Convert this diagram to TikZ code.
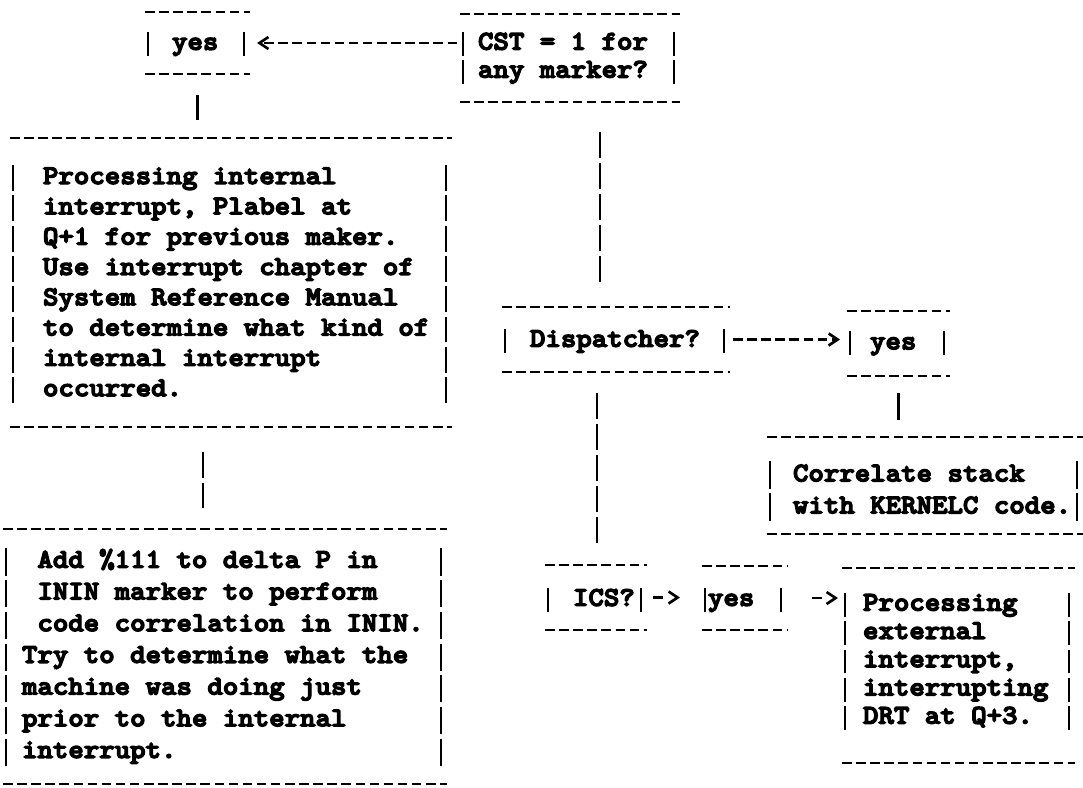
\documentclass[tikz,border=0pt]{standalone}
\usepackage{fontspec}
\newfontfamily\tw{lmmonolt10-bold.otf}[FakeStretch=1.09, FakeBold=5]
\usetikzlibrary{arrows.meta}

\tikzset{
  ink/.style={line width=2.7pt, black},
  hrule/.style={ink, dash pattern=on 9.5pt off 4.6pt},
  vdash/.style={ink, dash pattern=on 26pt off 5pt},
  boxshape/.style={rectangle, inner sep=0pt, outer sep=0pt},
  txt/.style={font=\tw\fontsize{27}{#1}\selectfont, align=left,
    anchor=west, inner sep=0pt, outer sep=0pt},
  txt/.default=29,
  barb/.style={-{Straight Barb[length=9pt,width=12pt]}},
  stub/.style={ink, dash pattern=on 10pt off 40pt, barb}
}

% a typed box: name, left, top, right, bottom, first row, last row, row pitch
\newcommand\tbox[8]{%
  \node[boxshape, minimum width={#4-#2}, minimum height={#5-#3}] (#1)
    at ({(#2+#4)/2},{(#3+#5)/2}) {};
  \draw[hrule] (#1.north west) -- (#1.north east);
  \draw[hrule] (#1.south west) -- (#1.south east);
  \pgfmathsetmacro\barlen{#8-4.5}
  \pgfmathsetmacro\bartop{#6-\barlen/2}
  \pgfmathsetmacro\barbot{#7+\barlen/2}
  \draw[ink, dash pattern=on \barlen pt off 4.5pt] ({#2+3},\bartop) -- ({#2+3},\barbot);
  \draw[ink, dash pattern=on \barlen pt off 4.5pt] ({#4-6},\bartop) -- ({#4-6},\barbot);
}

\begin{document}
\begin{tikzpicture}[x=1pt, y=-1pt]
\fill[white] (0,0) rectangle (1083,787);
\useasboundingbox (0,0) rectangle (1083,787);

% boxes
\tbox{yes1}{145}{12}{250}{74}{44}{44}{29}
\tbox{cst}{460}{14}{680}{102}{44}{72}{28}
\tbox{big}{10}{138}{452}{427}{178}{390}{30.3}
\tbox{add}{3}{529}{447}{784}{562}{752}{31.7}
\tbox{disp}{502}{307}{730}{372}{341}{341}{29}
\tbox{yes2}{847}{311}{950}{376}{343}{343}{29}
\tbox{corr}{767}{437}{1083}{534}{475}{507}{32}
\tbox{ics}{545}{565}{647}{630}{600}{600}{29}
\tbox{yes3}{702}{566}{787}{630}{600}{600}{29}
\tbox{proc}{842}{568}{1075}{763}{605}{718}{28.25}

% box texts
\node[txt] (yes1-t) at ([xshift=27pt,yshift=-1pt]yes1.west) {\strut yes};
\node[txt=28] (cst-t) at ([xshift=18pt]cst.west) {\strut CST = 1 for\\\strut any marker?};
\node[txt=30.3] (big-t) at ([xshift=33pt,yshift=-1.5pt]big.west)
  {\strut Processing internal\\
   \strut interrupt, Plabel at\\
   \strut Q+1 for previous maker.\\
   \strut Use interrupt chapter of\\
   \strut System Reference Manual\\
   \strut to determine what kind of\\
   \strut internal interrupt\\
   \strut occurred.};
\node[txt=31.7] (add-t) at ([xshift=19pt]add.west)
  {\strut\ Add \%111 to delta P in\\
   \strut\ ININ marker to perform\\
   \strut\ code correlation in ININ.\\
   \strut Try to determine what the\\
   \strut machine was doing just\\
   \strut prior to the internal\\
   \strut interrupt.};
\node[txt] (disp-t) at ([xshift=28pt,yshift=-1.5pt]disp.west) {\strut Dispatcher?};
\node[txt] (yes2-t) at ([xshift=23pt]yes2.west) {\strut yes};
\node[txt=32] (corr-t) at ([xshift=26pt,yshift=-5.5pt]corr.west)
  {\strut Correlate stack\\\strut with KERNELC code.};
\node[txt] (ics-t) at ([xshift=28pt,yshift=-2.5pt]ics.west) {\strut ICS?};
\node[txt] (yes3-t) at ([xshift=6pt,yshift=-2pt]yes3.west) {\strut yes};
\node[txt=28.25] (proc-t) at ([xshift=21pt,yshift=4pt]proc.west)
  {\strut Processing\\
   \strut external\\
   \strut interrupt,\\
   \strut interrupting\\
   \strut DRT at Q+3.};

% drop lines
\coordinate (dropC) at (600,0);
\coordinate (dropB) at (203,0);
\coordinate (dropD) at (597,0);

% connectors
\draw[hrule, barb, shorten <=3pt, shorten >=7pt] (cst.west |- yes1.east) -- (yes1.east);
\draw[ink, shorten <=21pt, shorten >=18pt] (yes1.south) -- (big.north -| yes1.south);
\draw[vdash, shorten <=30pt, shorten >=20pt] (cst.south -| dropC) -- (disp.north -| dropC);
\draw[vdash, shorten <=25pt, shorten >=21pt] (big.south -| dropB) -- (add.north -| dropB);
\draw[hrule, barb, shorten <=3pt, shorten >=7pt] (disp.east) -- (yes2.west |- disp.east);
\draw[ink, shorten <=17pt, shorten >=17pt] (yes2.south) -- (corr.north -| yes2.south);
\draw[vdash, shorten <=21pt, shorten >=20pt] (disp.south -| dropD) -- (ics.north -| dropD);
\draw[stub, shorten <=6pt, shorten >=22pt] (ics.east) -- (yes3.west |- ics.east);
\draw[stub, shorten <=25pt, shorten >=4pt] (yes3.east) -- (proc.west |- yes3.east);
\end{tikzpicture}
\end{document}
